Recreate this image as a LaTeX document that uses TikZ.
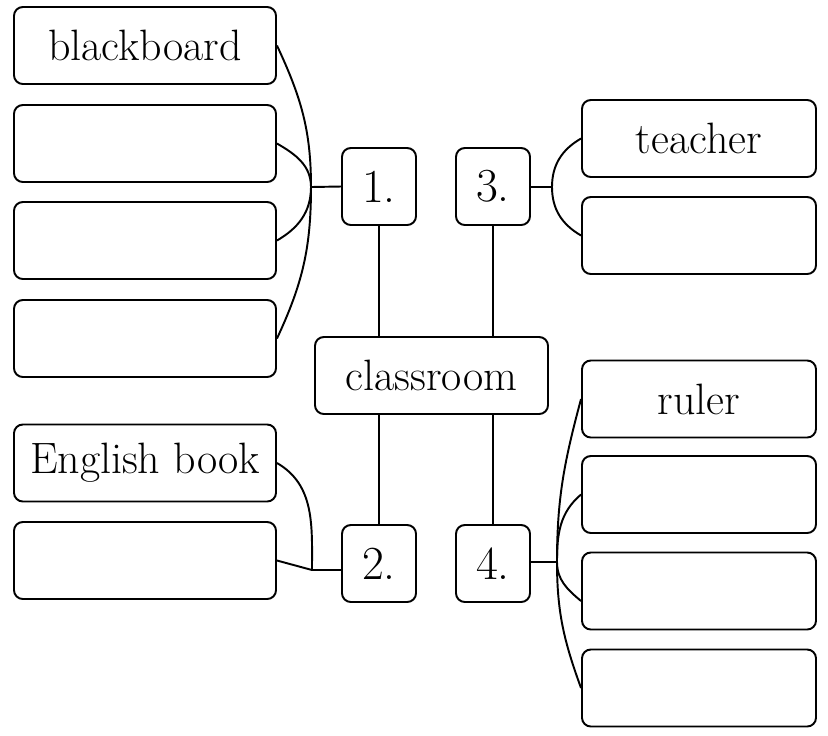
\documentclass[tikz,border=0pt]{standalone}
\usepackage{tikz}

\tikzset{
    wordbox/.style={draw, line width=1.1pt, rounded corners=5pt, minimum width=262*0.02cm, minimum height=77*0.02cm, inner sep=0pt},
    rightbox/.style={wordbox, minimum width=234*0.02cm},
    numbox/.style={wordbox, minimum width=74*0.02cm, font=\fontsize{27}{30}\selectfont},
    link/.style={line width=1.1pt},
}

\begin{document}
\begin{tikzpicture}[x=0.02cm, y=-0.02cm, font=\fontsize{25}{30}\selectfont]
    \useasboundingbox (0,0) rectangle (828,735);
    % left side
    \node[wordbox] (l1) at (145,45.5) {blackboard};
    \node[wordbox] (l2) at (145,143.5) {};
    \node[wordbox] (l3) at (145,240.5) {};
    \node[wordbox] (l4) at (145,338.5) {};
    \node[wordbox] (e1) at (145,463) {English book};
    \node[wordbox] (e2) at (145,560.5) {};
    % middle
    \node[numbox] (n1) at (379,186.5) {1.};
    \node[numbox] (n3) at (493,186.5) {3.};
    \node[numbox] (n2) at (379,563.5) {2.};
    \node[numbox] (n4) at (493,563.5) {4.};
    \node[wordbox, minimum width=233*0.02cm] (room) at (431.5,375.5) {classroom};
    % right side
    \node[rightbox] (r1) at (699,138.5) {teacher};
    \node[rightbox] (r2) at (699,235.5) {};
    \node[rightbox] (r3) at (699,399) {ruler};
    \node[rightbox] (r4) at (699,494.5) {};
    \node[rightbox] (r5) at (699,591) {};
    \node[rightbox] (r6) at (699,688) {};

    \coordinate (j1) at (311,187);
    \coordinate (j2) at (312,570);
    \coordinate (j3) at (552,187);
    \coordinate (j4) at (557,562);

    % trunk
    \draw[link] (n1) -- (room.north -| n1) (room.south -| n2) -- (n2);
    \draw[link] (n3) -- (room.north -| n3) (room.south -| n4) -- (n4);
    % 1.
    \draw[link] (j1) -- (n1.west);
    \draw[link] (l1.east) to[out=-65,in=90] (j1) to[out=-90,in=65] (l4.east);
    \draw[link] (l2.east) to[out=-30,in=90] (j1) to[out=-90,in=30] (l3.east);
    % 2.
    \draw[link] (e1.east) to[out=-30,in=90] (j2) -- (n2.west |- j2);
    \draw[link] (e2.east) -- (j2);
    % 3.
    \draw[link] (n3.east |- j3) -- (j3);
    \draw[link] (r1.west) to[out=210,in=90] (j3) to[out=-90,in=150] (r2.west);
    % 4.
    \draw[link] (n4.east |- j4) -- (j4);
    \draw[link] (r3.west) to[out=255,in=90] (j4) to[out=-90,in=110] (r6.west);
    \draw[link] (r4.west) to[out=220,in=90] (j4) to[out=-90,in=140] ([yshift=-10*0.02cm]r5.west);
\end{tikzpicture}
\end{document}
